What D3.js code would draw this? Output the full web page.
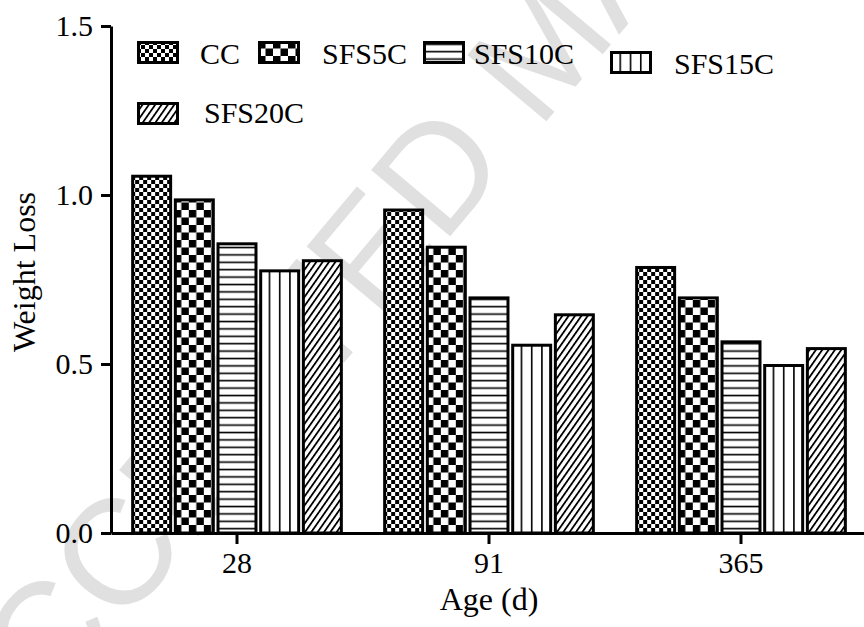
<!DOCTYPE html>
<html>
<head>
<meta charset="utf-8">
<script src="https://cdn.jsdelivr.net/npm/d3@7"></script>
<style>
  html, body { margin: 0; padding: 0; background: #fff; }
  svg { display: block; }
</style>
</head>
<body>
<svg id="chart" width="864" height="627"></svg>
<script>
// ---- data ----
const ages = ["28", "91", "365"];
const series = ["CC", "SFS5C", "SFS10C", "SFS15C", "SFS20C"];
const ccValues     = [1.06, 0.96, 0.79];
const sfs5cValues  = [0.99, 0.85, 0.70];
const sfs10cValues = [0.86, 0.70, 0.57];
const sfs15cValues = [0.78, 0.56, 0.50];
const sfs20cValues = [0.81, 0.65, 0.55];
const yTickValues = [0, 0.5, 1.0, 1.5];
const xTitle = "Age (d)";
const yTitle = "Weight Loss";
const watermarkText = "ACCEPTED MANUSCRIPT";

const valuesBySeries = {
  "CC": ccValues, "SFS5C": sfs5cValues, "SFS10C": sfs10cValues,
  "SFS15C": sfs15cValues, "SFS20C": sfs20cValues
};
const rows = ages.flatMap((age, i) =>
  series.map(s => ({ age, s, v: valuesBySeries[s][i] })));

// ---- layout ----
const serif = "'Liberation Serif', 'Times New Roman', serif";
const svg = d3.select("#chart");

const y = d3.scaleLinear().domain([0, 1.5]).range([533, 26]);
const x0 = d3.scaleBand().domain(ages).range([111, 867])
  .paddingInner(0.16).paddingOuter(0.08);
const x1 = d3.scaleBand().domain(series).range([0, x0.bandwidth()])
  .paddingInner(0.04);

// ---- fill patterns ----
const defs = svg.append("defs");
function checker(id, c) {
  const p = defs.append("pattern").attr("id", id)
    .attr("patternUnits", "userSpaceOnUse")
    .attr("width", 2 * c).attr("height", 2 * c);
  p.append("rect").attr("width", 2 * c).attr("height", 2 * c).attr("fill", "#fff");
  p.append("rect").attr("width", c).attr("height", c).attr("fill", "#000");
  p.append("rect").attr("x", c).attr("y", c).attr("width", c).attr("height", c).attr("fill", "#000");
}
checker("pat-CC", 4);
checker("pat-SFS5C", 7.5);

const hp = defs.append("pattern").attr("id", "pat-SFS10C")
  .attr("patternUnits", "userSpaceOnUse").attr("width", 10).attr("height", 7.4);
hp.append("rect").attr("width", 10).attr("height", 7.4).attr("fill", "#fff");
hp.append("rect").attr("y", 2.5).attr("width", 10).attr("height", 1.6).attr("fill", "#000");

const vStep = x1.bandwidth() / 4;
const vp = defs.append("pattern").attr("id", "pat-SFS15C")
  .attr("patternUnits", "userSpaceOnUse").attr("x", -0.8)
  .attr("width", vStep).attr("height", 10);
vp.append("rect").attr("width", vStep).attr("height", 10).attr("fill", "#fff");
vp.append("rect").attr("width", 1.6).attr("height", 10).attr("fill", "#000");

const dp = defs.append("pattern").attr("id", "pat-SFS20C")
  .attr("patternUnits", "userSpaceOnUse").attr("width", 5.2).attr("height", 5.2)
  .attr("patternTransform", "rotate(35)");
dp.append("rect").attr("width", 5.2).attr("height", 5.2).attr("fill", "#fff");
dp.append("rect").attr("width", 1.8).attr("height", 5.2).attr("fill", "#000");

// ---- watermark ----
svg.append("text")
  .attr("transform", "translate(540,45) rotate(-50)")
  .attr("text-anchor", "middle").attr("dy", "0.36em")
  .attr("font-family", "'Liberation Sans', Arial, sans-serif")
  .attr("font-size", 150).attr("fill", "#e0e0e0")
  .text(watermarkText);

// ---- bars ----
const bars = svg.append("g").selectAll("g.bar").data(rows).join("g")
  .attr("class", "bar")
  .attr("transform", d => `translate(${x0(d.age) + x1(d.s)},0)`);
bars.append("rect")
  .attr("x", 1.5)
  .attr("width", x1.bandwidth() - 3)
  .attr("y", d => y(d.v) + 1.5)
  .attr("height", d => y(0) - y(d.v) - 1.5)
  .attr("fill", d => `url(#pat-${d.s})`)
  .attr("stroke", "#000").attr("stroke-width", 3);

// ---- axes ----
const yAxis = svg.append("g").attr("transform", "translate(111,0)")
  .call(d3.axisLeft(y).tickValues(yTickValues).tickFormat(d3.format(".1f"))
    .tickSize(10).tickSizeOuter(0).tickPadding(8));
const xAxis = svg.append("g").attr("transform", `translate(0,${y(0)})`)
  .call(d3.axisBottom(x0).tickSize(11).tickSizeOuter(0).tickPadding(8));
[yAxis, xAxis].forEach(a => {
  a.select(".domain").attr("stroke", "#000").attr("stroke-width", 3);
  a.selectAll(".tick line").attr("stroke", "#000").attr("stroke-width", 3);
  a.selectAll(".tick text").attr("font-family", serif).attr("font-size", 30).attr("fill", "#000");
});

svg.append("text").attr("x", (x0("91") + x0.bandwidth() / 2)).attr("y", 610)
  .attr("text-anchor", "middle").attr("font-family", serif).attr("font-size", 32)
  .text(xTitle);
svg.append("text").attr("transform", "translate(35,272) rotate(-90)")
  .attr("text-anchor", "middle").attr("font-family", serif).attr("font-size", 32)
  .text(yTitle);

// ---- legend ----
const legendLayout = [
  { sx: 137, sy: 41, tx: 200, ty: 64 },
  { sx: 258, sy: 41, tx: 322, ty: 64 },
  { sx: 423, sy: 41, tx: 474, ty: 64 },
  { sx: 610, sy: 51, tx: 674, ty: 74 },
  { sx: 137, sy: 102, tx: 204, ty: 123 }
];
const legend = svg.append("g").selectAll("g").data(series).join("g");
legend.append("g")
  .attr("transform", (d, i) => `translate(${legendLayout[i].sx},${legendLayout[i].sy})`)
  .append("rect").attr("x", 1.5).attr("y", 1.5).attr("width", 39).attr("height", 20)
  .attr("fill", d => `url(#pat-${d})`).attr("stroke", "#000").attr("stroke-width", 3);
legend.append("text")
  .attr("x", (d, i) => legendLayout[i].tx).attr("y", (d, i) => legendLayout[i].ty)
  .attr("font-family", serif).attr("font-size", 30).text(d => d);
</script>
</body>
</html>
